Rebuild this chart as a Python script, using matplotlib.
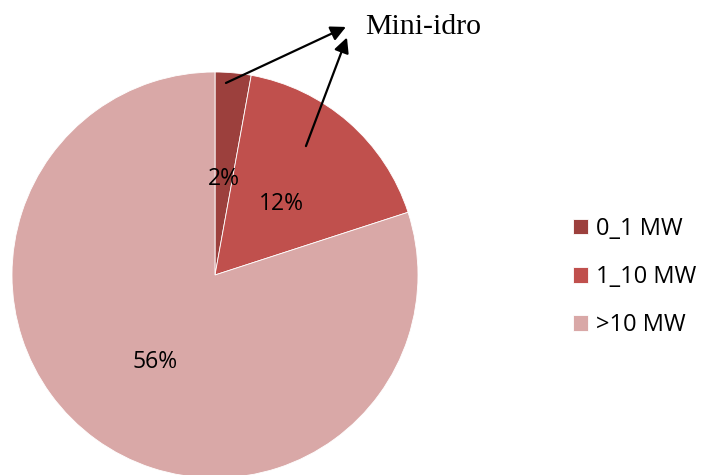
import matplotlib.pyplot as plt

categories = ['0_1 MW', '1_10 MW', '>10 MW']
values = [2, 12, 56]
colors = ['#9C403D', '#C0504D', '#D9A8A7']

fig = plt.figure(figsize=(7.01, 4.75), dpi=100)
# pie centre ~ (215, 275) px from top-left, radius ~203 px
W, H = 701, 475
cx, cy, r = 215, 475 - 275, 203
ax = fig.add_axes([(cx - r) / W, (cy - r) / H, 2 * r / W, 2 * r / H])

wedges, texts = ax.pie(values, colors=colors, startangle=90, counterclock=False,
                       radius=1, labels=[f'{v}%' for v in values], labeldistance=0.5,
                       wedgeprops=dict(edgecolor='white', linewidth=0.6),
                       textprops=dict(fontsize=16.5, family=['Open Sans', 'DejaVu Sans'],
                                      ha='center', va='center'))
for w in wedges:
    w.set_clip_on(False)
for t in texts:
    t.set_y(t.get_position()[1] - 0.025)
ax.set_xlim(-1, 1)
ax.set_ylim(-1, 1)
ax.set_aspect('equal')
ax.axis('off')

# arrows to the "Mini-idro" note
arrowprops = dict(arrowstyle='-|>,head_length=0.9,head_width=0.45', color='black', lw=1.6,
                  shrinkA=0, shrinkB=0)
ax.annotate('', xy=(0.645, 1.222), xytext=(0.054, 0.946), arrowprops=arrowprops,
            annotation_clip=False)
ax.annotate('', xy=(0.650, 1.170), xytext=(0.448, 0.635), arrowprops=arrowprops,
            annotation_clip=False)
ax.text(0.739, 1.22, 'Mini-idro', fontsize=21.5, family='Liberation Serif',
        ha='left', va='center', clip_on=False)

leg = fig.legend(wedges, categories, loc='center left', bbox_to_anchor=(573 / W, 1 - 277 / H),
                 frameon=False, handlelength=0.64, handleheight=0.64,
                 handletextpad=0.35, labelspacing=1.02, borderpad=0, borderaxespad=0,
                 prop=dict(family=['Open Sans', 'DejaVu Sans'], size=17))

fig.savefig('out.png', dpi=100)
